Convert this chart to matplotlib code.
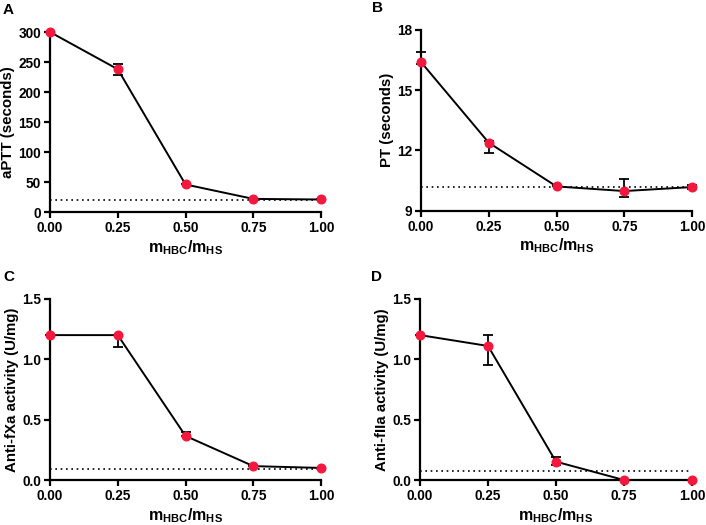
import numpy as np
import matplotlib.pyplot as plt

plt.rcParams['font.family'] = 'Liberation Sans'
plt.rcParams['font.weight'] = 'bold'
plt.rcParams['mathtext.fontset'] = 'custom'
plt.rcParams['mathtext.rm'] = 'Liberation Sans:bold'
plt.rcParams['mathtext.bf'] = 'Liberation Sans:bold'

ratio = [0.00, 0.25, 0.50, 0.75, 1.00]

## aPTT
aptt = [300, 238, 46, 22, 21]
aptt_lo = [0, 9, 0, 0, 0]
aptt_hi = [0, 9, 0, 0, 0]
aptt_ref = 19.5

## PT
pt = [16.4, 12.38, 10.2, 9.97, 10.17]
pt_lo = [0.1, 0.5, 0.0, 0.3, 0.1]
pt_hi = [0.5, 0.1, 0.0, 0.6, 0.1]
pt_ref = 10.17

## anti-fXa
fxa = [1.2, 1.2, 0.365, 0.115, 0.10]
fxa_lo = [0, 0.095, 0, 0, 0]
fxa_hi = [0, 0, 0.035, 0, 0]
fxa_ref = 0.095

## anti-fIIa
fiia = [1.2, 1.11, 0.152, 0.0, 0.0]
fiia_lo = [0, 0.155, 0.027, 0, 0]
fiia_hi = [0, 0.09, 0.04, 0, 0]
fiia_ref = 0.077

panels = [
    ('A', aptt, aptt_lo, aptt_hi, aptt_ref, 'aPTT (seconds)', (0, 300), [0, 50, 100, 150, 200, 250, 300], '%d'),
    ('B', pt, pt_lo, pt_hi, pt_ref, 'PT (seconds)', (9, 18), [9, 12, 15, 18], '%d'),
    ('C', fxa, fxa_lo, fxa_hi, fxa_ref, 'Anti-fXa activity (U/mg)', (0, 1.5), [0, 0.5, 1.0, 1.5], '%.1f'),
    ('D', fiia, fiia_lo, fiia_hi, fiia_ref, 'Anti-fIIa activity (U/mg)', (0, 1.5), [0, 0.5, 1.0, 1.5], '%.1f'),
]

# axes boxes in figure fraction
boxes = [
    [0.0708, 0.596, 0.384, 0.343],
    [0.5963, 0.599, 0.384, 0.344],
    [0.0708, 0.0857, 0.384, 0.345],
    [0.5950, 0.0857, 0.385, 0.345],
]
letter_x = [-0.173, -0.18, -0.173, -0.18]

fig = plt.figure(figsize=(7.06, 5.25), dpi=100)

for (letter, y, lo, hi, ref, ylab, ylim, yticks, fmt), box, lx in zip(panels, boxes, letter_x):
    ax = fig.add_axes(box)
    ax.axhline(ref, color='black', linestyle=(0, (1, 2.2)), linewidth=1.2, zorder=1)
    ax.errorbar(ratio, y, yerr=[lo, hi], fmt='none', ecolor='black',
                elinewidth=1.3, capsize=3.5, capthick=1.3, zorder=2, clip_on=False)
    ax.plot(ratio, y, color='black', linewidth=1.4, zorder=3, clip_on=False)
    ax.plot(ratio, y, 'o', color='#f5183e', markersize=6.2, zorder=4, clip_on=False)

    ax.set_xlim(0, 1)
    ax.set_ylim(*ylim)
    ax.set_xticks(ratio)
    ax.set_xticklabels(['%.2f' % r for r in ratio])
    ax.set_yticks(yticks)
    ax.set_yticklabels([fmt % t for t in yticks])

    for s in ['top', 'right']:
        ax.spines[s].set_visible(False)
    for s in ['left', 'bottom']:
        ax.spines[s].set_linewidth(1.6)
    ax.tick_params(direction='out', length=4.5, width=1.6, labelsize=9.8, pad=2)

    ax.set_ylabel(ylab, fontsize=10.8, fontweight='bold', labelpad=2)
    ax.set_xlabel(r'$\mathbf{m_{HBC}/m_{HS}}$', fontsize=11.5, labelpad=2)
    ax.text(lx, 1.16, letter, transform=ax.transAxes, fontsize=11,
            fontweight='bold', va='top', ha='left')

plt.savefig('out.png', dpi=100)
